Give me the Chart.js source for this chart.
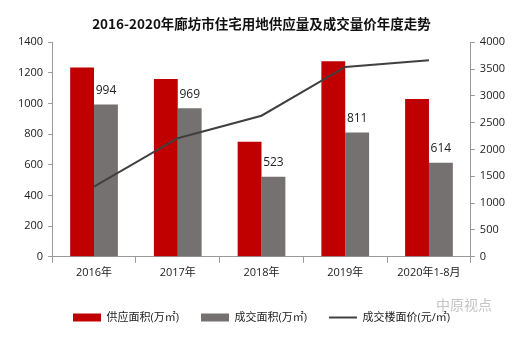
<!DOCTYPE html>
<html>
<head>
<meta charset="utf-8">
<script src="https://cdn.jsdelivr.net/npm/chart.js@4.4.0/dist/chart.umd.min.js"></script>
<style>
  html, body { margin: 0; padding: 0; background: #fff; }
  #wrap { width: 530px; height: 339px; }
</style>
</head>
<body>
<div id="wrap"><canvas id="chart" width="530" height="339"></canvas></div>
<script>
const years = ["2016年", "2017年", "2018年", "2019年", "2020年1-8月"];
const supplyArea = [1235, 1160, 750, 1275, 1030];
const dealArea = [994, 969, 523, 811, 614];
const dealPrice = [1310, 2210, 2630, 3540, 3665];
const leftTicks = [0, 1400, 200];
const rightTicks = [0, 4000, 500];

const FONT = "'Open Sans', 'Noto Sans CJK SC', sans-serif";

// numbers over the grey bars + the faint watermark
const barLabels = {
  id: "barLabels",
  afterDatasetsDraw(chart) {
    const ctx = chart.ctx;
    const meta = chart.getDatasetMeta(1);
    ctx.save();
    ctx.font = "12px " + FONT;
    ctx.fillStyle = "#222";
    ctx.textAlign = "center";
    ctx.textBaseline = "bottom";
    meta.data.forEach((bar, i) => {
      ctx.fillText(dealArea[i], bar.x, bar.y - 8);
    });
    ctx.font = "14px 'Noto Sans CJK SC', sans-serif";
    ctx.fillStyle = "#c4c4c4";
    ctx.textAlign = "left";
    ctx.textBaseline = "middle";
    ctx.fillText("中原视点", 436, 305);
    ctx.restore();
  }
};

new Chart(document.getElementById("chart").getContext("2d"), {
  type: "bar",
  data: {
    labels: years,
    datasets: [
      {
        label: "供应面积(万㎡)",
        data: supplyArea,
        backgroundColor: "#c00000",
        yAxisID: "y",
        pointStyle: "rect",
        categoryPercentage: 0.57,
        barPercentage: 1,
        order: 2,
      },
      {
        label: "成交面积(万㎡)",
        data: dealArea,
        backgroundColor: "#767171",
        yAxisID: "y",
        pointStyle: "rect",
        categoryPercentage: 0.57,
        barPercentage: 1,
        order: 2,
      },
      {
        type: "line",
        label: "成交楼面价(元/㎡)",
        data: dealPrice,
        borderColor: "#404040",
        backgroundColor: "#404040",
        borderWidth: 2,
        pointRadius: 0,
        pointStyle: "line",
        tension: 0,
        yAxisID: "y1",
        order: 1,
      },
    ],
  },
  options: {
    responsive: false,
    animation: false,
    layout: { padding: { left: 13, right: 20, top: 0, bottom: 6 } },
    plugins: {
      title: {
        display: true,
        text: "2016-2020年廊坊市住宅用地供应量及成交量价年度走势",
        color: "#111",
        font: { family: "'Noto Sans CJK SC', sans-serif", size: 13.5, weight: "bold" },
        padding: { top: 16, bottom: 10 },
      },
      legend: {
        position: "bottom",
        labels: {
          usePointStyle: true,
          pointStyleWidth: 28,
          boxHeight: 8,
          padding: 22,
          color: "#222",
          font: { family: FONT, size: 11 },
          sort: (a, b) => a.datasetIndex - b.datasetIndex,
        },
      },
      tooltip: { enabled: false },
    },
    scales: {
      x: {
        grid: { drawOnChartArea: false, tickLength: 6, color: "#999" },
        border: { color: "#999" },
        ticks: { color: "#222", font: { family: FONT, size: 11 }, padding: 3 },
        // extra room under the labels so the plot ends higher
        afterFit: (scale) => { scale.height += 8; },
      },
      y: {
        position: "left",
        min: leftTicks[0],
        max: leftTicks[1],
        ticks: { stepSize: leftTicks[2], color: "#222", font: { family: FONT, size: 11 }, padding: 5, callback: (v) => v },
        grid: { drawOnChartArea: false, tickLength: 4, color: "#999" },
        border: { color: "#999" },
      },
      y1: {
        position: "right",
        min: rightTicks[0],
        max: rightTicks[1],
        ticks: { stepSize: rightTicks[2], color: "#222", font: { family: FONT, size: 11 }, padding: 5, callback: (v) => v },
        grid: { drawOnChartArea: false, tickLength: 4, color: "#999" },
        border: { color: "#999" },
      },
    },
  },
  plugins: [barLabels],
});
</script>
</body>
</html>
